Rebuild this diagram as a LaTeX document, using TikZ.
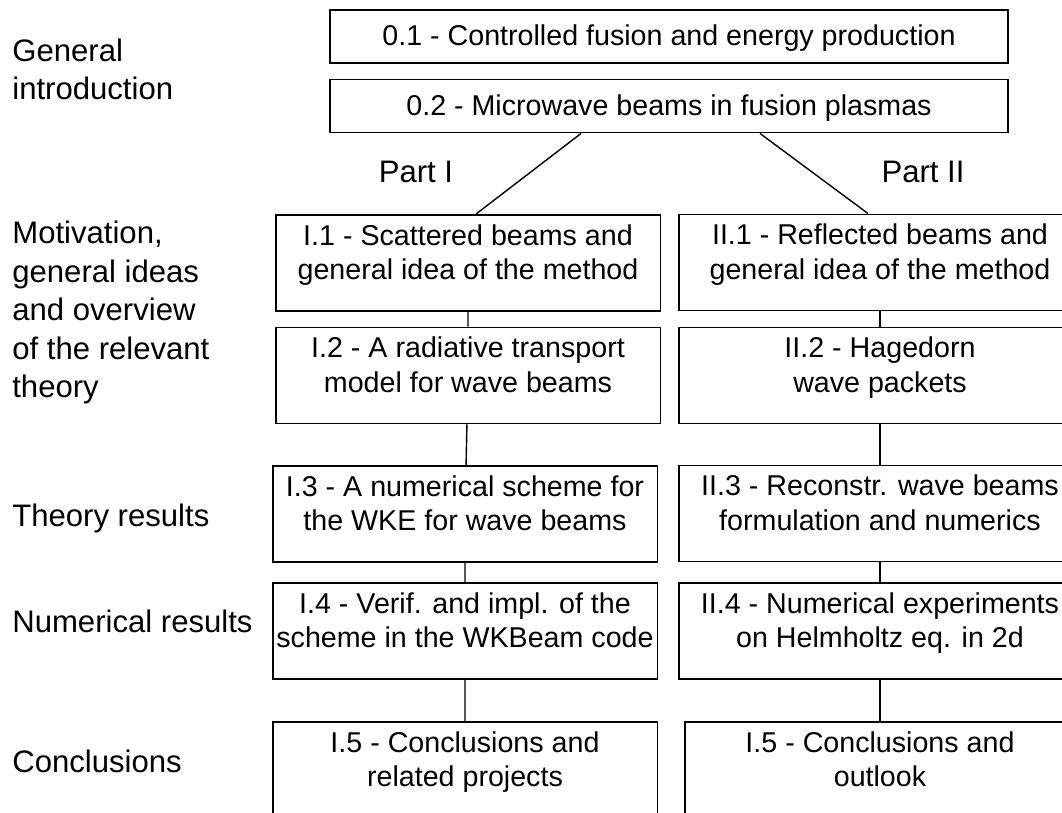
\documentclass[tikz,border=0pt]{standalone}
\usepackage{fontspec}
\setmainfont{Liberation Sans}

\tikzset{chapbox/.style={draw, line width=1.1pt, inner xsep=0pt, inner ysep=0pt,
          align=center, font=\fontsize{16.3}{19.9}\selectfont,
          text height=1.3cm, text depth=0.62cm}}
\tikzset{widebox/.style={chapbox, minimum width=13.56cm, text height=0.72cm, text depth=0.34cm}}
\tikzset{leftbox/.style={chapbox, minimum width=7.7cm}}
\tikzset{rightbox/.style={chapbox, minimum width=8.04cm}}
\tikzset{sidelabel/.style={anchor=base west, align=left, inner sep=0pt,
          font=\fontsize{17.7}{22}\selectfont}}
\tikzset{partlabel/.style={anchor=base, inner sep=0pt, font=\fontsize{17.7}{22}\selectfont}}
\tikzset{link/.style={line width=0.8pt}}

\begin{document}
\begin{tikzpicture}[x=0.02cm, y=-0.02cm]

\useasboundingbox (0,0) rectangle (1062,813);
\clip (0,0) rectangle (1062,813);

% labels on the left
\node[sidelabel] (intro) at (12,100) {General\\introduction};
\node[sidelabel] (motiv) at (12,398) {Motivation,\\general ideas\\and overview\\of the relevant\\theory};
\node[sidelabel] (theory) at (12,527) {Theory results};
\node[sidelabel] (numer) at (12,633) {Numerical results};
\node[sidelabel] (concl) at (12,773) {Conclusions};

% general introduction
\node[widebox] (b01) at (669,36.5) {0.1 - Controlled fusion and energy production};
\node[widebox] (b02) at (669,106) {0.2 - Microwave beams in fusion plasmas};

\node[partlabel] (parti) at (416,183) {Part I};
\node[partlabel] (partii) at (923,183) {Part II};

% part I
\node[leftbox] (i1) at (468,263) {I.1 - Scattered beams and\\general idea of the method};
\node[leftbox] (i2) at (468,375.5) {I.2 - A radiative transport\\model for wave beams};
\node[leftbox] (i3) at (465,514) {I.3 - A numerical scheme for\\the WKE for wave beams};
\node[leftbox] (i4) at (465,631) {I.4 - Verif. and impl. of the\\scheme in the WKBeam code};
\node[leftbox] (i5) at (465,770) {I.5 - Conclusions and\\related projects};

% part II
\node[rightbox] (ii1) at (880,262.5) {II.1 - Reflected beams and\\general idea of the method};
\node[rightbox] (ii2) at (880,375.5) {II.2 - Hagedorn\\wave packets};
\node[rightbox] (ii3) at (880,513.5) {II.3 - Reconstr. wave beams\\formulation and numerics};
\node[rightbox] (ii4) at (880,631) {II.4 - Numerical experiments\\on Helmholtz eq. in 2d};
\node[rightbox, minimum width=7.8cm] (ii5) at (880,770) {I.5 - Conclusions and\\outlook};

% connections
\draw[link] ([xshift=-1.76cm]b02.south) -- ([xshift=0.16cm]i1.north);
\draw[link] ([xshift=1.82cm]b02.south) -- ([xshift=-0.24cm]ii1.north);
\draw[link] (i1) -- (i2) -- (i3) -- (i4) -- (i5);
\draw[link] (ii1) -- (ii2) -- (ii3) -- (ii4) -- (ii5);

\end{tikzpicture}
\end{document}
